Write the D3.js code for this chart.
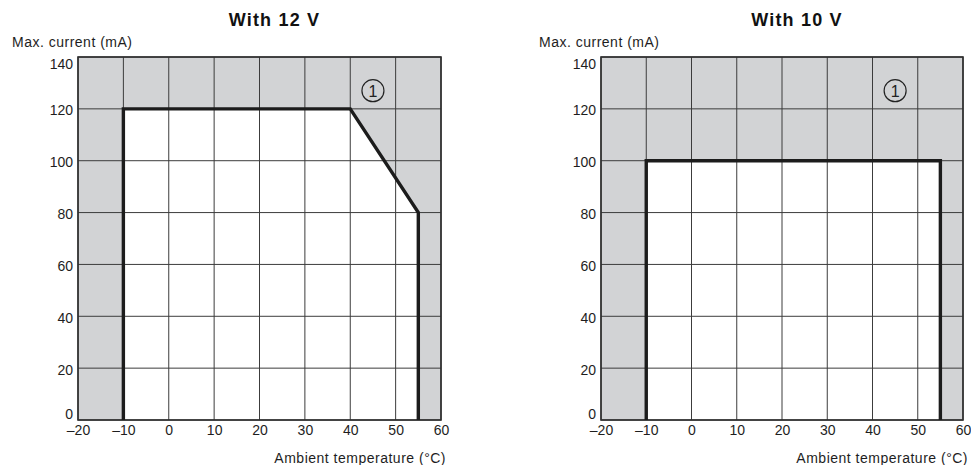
<!DOCTYPE html>
<html>
<head>
<meta charset="utf-8">
<script src="https://cdn.jsdelivr.net/npm/d3@7/dist/d3.min.js"></script>
<style>
  html, body { margin: 0; padding: 0; background: #fff; }
  svg { display: block; font-family: "Liberation Sans", Arial, Helvetica, sans-serif; }
</style>
</head>
<body>
<svg id="chart" width="971" height="465"></svg>
<script>
// ---- data ----
const xTicks = [-20, -10, 0, 10, 20, 30, 40, 50, 60];
const yTicks = [0, 20, 40, 60, 80, 100, 120, 140];
const titles = ["With 12 V", "With 10 V"];
const yAxisTitle = "Max. current (mA)";
const xAxisTitle = "Ambient temperature (\u00B0C)";
const temp12V = [-10, -10, 40, 55, 55];
const current12V = [0, 120, 120, 80, 0];
const temp10V = [-10, -10, 55, 55];
const current10V = [0, 100, 100, 0];
const markerTemp = [45, 45];
const markerCurrent = [127, 127];
const markerLabel = "1";

// ---- layout ----
const svg = d3.select("#chart");
const panels = [
  { title: titles[0], temp: temp12V, current: current12V, x0: 78, x1: 441, yTitleX: 12 },
  { title: titles[1], temp: temp10V, current: current10V, x0: 601, x1: 963, yTitleX: 539 }
];
const yTop = 57, yBot = 420;
const fmt = d => d < 0 ? "\u2013" + Math.abs(d) : String(d);

panels.forEach((p, i) => {
  const x = d3.scaleLinear().domain([xTicks[0], xTicks[xTicks.length - 1]]).range([p.x0, p.x1]);
  const y = d3.scaleLinear().domain([yTicks[0], yTicks[yTicks.length - 1]]).range([yBot, yTop]);
  const g = svg.append("g");

  // gray background (outside limits)
  g.append("rect")
    .attr("x", x.range()[0]).attr("y", y.range()[1])
    .attr("width", x.range()[1] - x.range()[0])
    .attr("height", y.range()[0] - y.range()[1])
    .attr("fill", "#d2d3d5");

  const pts = p.temp.map((t, k) => [x(t), y(p.current[k])]);

  // white operating area
  g.append("path")
    .attr("d", d3.line()(pts) + "Z")
    .attr("fill", "#ffffff");

  // grid
  g.append("g").selectAll("line.v").data(xTicks).join("line")
    .attr("x1", d => x(d)).attr("x2", d => x(d))
    .attr("y1", y.range()[0]).attr("y2", y.range()[1])
    .attr("stroke", "#3c3c3c").attr("stroke-width", 1);
  g.append("g").selectAll("line.h").data(yTicks).join("line")
    .attr("y1", d => y(d)).attr("y2", d => y(d))
    .attr("x1", x.range()[0]).attr("x2", x.range()[1])
    .attr("stroke", "#3c3c3c").attr("stroke-width", 1);

  // border
  g.append("rect")
    .attr("x", x.range()[0]).attr("y", y.range()[1])
    .attr("width", x.range()[1] - x.range()[0])
    .attr("height", y.range()[0] - y.range()[1])
    .attr("fill", "none").attr("stroke", "#2e2e2e").attr("stroke-width", 1.6);

  // limit curve
  g.append("path")
    .attr("d", d3.line()(pts))
    .attr("fill", "none").attr("stroke", "#1c1c1c")
    .attr("stroke-width", 3.4).attr("stroke-linejoin", "miter");

  // axes
  const xa = g.append("g").attr("transform", `translate(0,${yBot})`)
    .call(d3.axisBottom(x).tickValues(xTicks).tickFormat(fmt).tickSize(0).tickPadding(5));
  const ya = g.append("g").attr("transform", `translate(${p.x0},0)`)
    .call(d3.axisLeft(y).tickValues(yTicks).tickFormat(fmt).tickSize(0).tickPadding(5));
  [xa, ya].forEach(a => {
    a.select(".domain").remove();
    a.selectAll("text").attr("font-size", 14).attr("fill", "#1e1e1e")
      .attr("font-family", "Liberation Sans, Arial, Helvetica, sans-serif");
  });
  ya.selectAll(".tick text").attr("dy", d => d === 140 ? "0.85em" : d === 0 ? "-0.12em" : "0.42em");

  // marker (1)
  const mx = x(markerTemp[i]), my = y(markerCurrent[i]);
  g.append("circle").attr("cx", mx).attr("cy", my).attr("r", 11)
    .attr("fill", "none").attr("stroke", "#222").attr("stroke-width", 1.2);
  g.append("text").attr("x", mx).attr("y", my + 6).attr("text-anchor", "middle")
    .attr("font-size", 16).attr("fill", "#222").text(markerLabel);

  // titles
  g.append("text").attr("x", (p.x0 + p.x1) / 2 + 15).attr("y", 26)
    .attr("text-anchor", "middle").attr("font-size", 18).attr("font-weight", "bold")
    .attr("letter-spacing", 1.2).attr("fill", "#111").text(p.title);
  g.append("text").attr("x", p.yTitleX).attr("y", 47)
    .attr("font-size", 14).attr("letter-spacing", 0.5).attr("fill", "#1e1e1e").text(yAxisTitle);
  g.append("text").attr("x", p.x1 + 5).attr("y", 463)
    .attr("text-anchor", "end").attr("font-size", 14).attr("letter-spacing", 0.5)
    .attr("fill", "#1e1e1e").text(xAxisTitle);
});
</script>
</body>
</html>
